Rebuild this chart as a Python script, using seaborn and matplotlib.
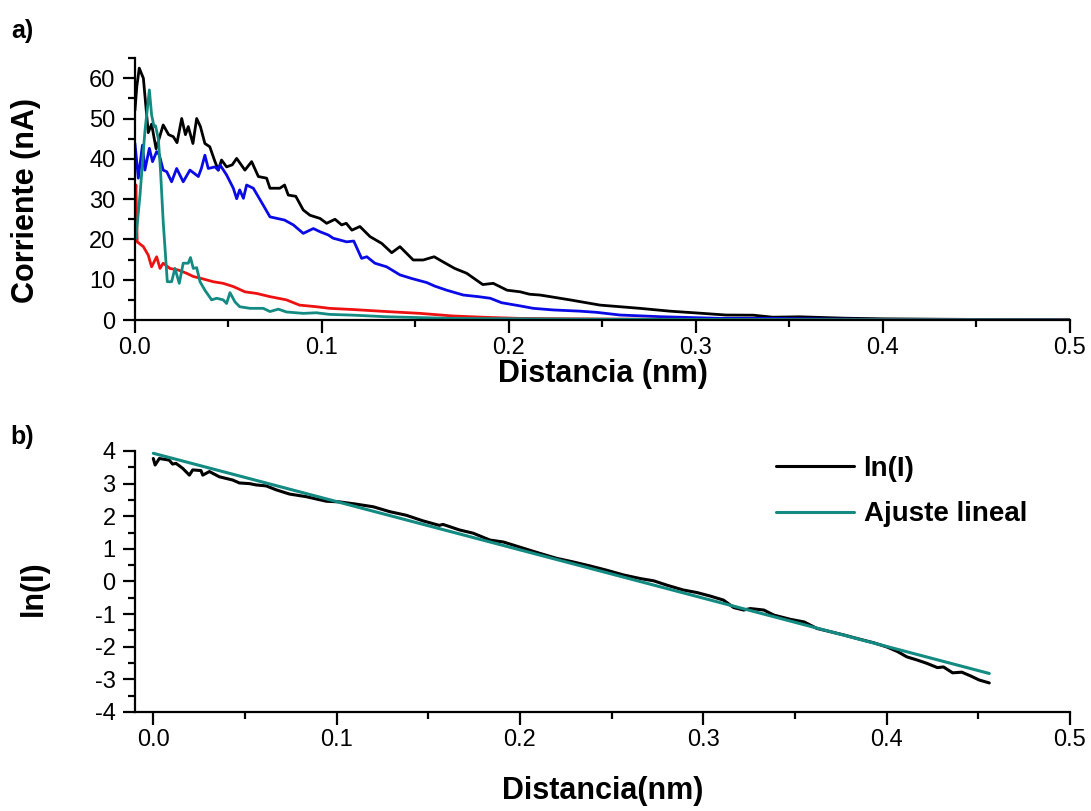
import pandas as pd
import seaborn as sns
import matplotlib.pyplot as plt
import matplotlib.ticker as ticker

sns.set_style("ticks")
plt.rcParams['font.family'] = ['Liberation Sans', 'DejaVu Sans']
plt.rcParams['axes.unicode_minus'] = False
plt.rcParams['text.color'] = 'black'
plt.rcParams['axes.labelcolor'] = 'black'
plt.rcParams['xtick.color'] = 'black'
plt.rcParams['ytick.color'] = 'black'

# --- panel a) : current vs distance, 4 curves ---
x_black = [0.0, 0.001, 0.0023, 0.0045, 0.0071, 0.0089, 0.0113, 0.0151, 0.018, 0.0205, 0.0225, 0.025, 0.027,
           0.0285, 0.031, 0.033, 0.035, 0.0374, 0.040, 0.0428, 0.0446, 0.0463, 0.049, 0.052, 0.0544, 0.0588,
           0.0624, 0.066, 0.0704, 0.0722, 0.0775, 0.080, 0.082, 0.086, 0.090, 0.0936, 0.099, 0.1025, 0.107,
           0.1105, 0.113, 0.116, 0.1203, 0.1257, 0.132, 0.1373, 0.1417, 0.1488, 0.1542, 0.160, 0.166, 0.171,
           0.1774, 0.186, 0.1916, 0.199, 0.206, 0.211, 0.2166, 0.222, 0.2326, 0.2487, 0.2594, 0.270, 0.286,
           0.302, 0.316, 0.3307, 0.341, 0.3556, 0.38, 0.40, 0.43, 0.46, 0.50]
y_black = [52, 58, 62.5, 60, 46.5, 48.6, 42.5, 48.4, 46, 45.5, 44, 50, 46, 48, 43.8, 50, 48, 43.8, 43, 39.3,
           37.2, 39.7, 38, 38.5, 40.1, 37.2, 39.3, 35.6, 35.2, 32.7, 32.7, 33.5, 31, 30.7, 27.3, 26, 25.2, 24,
           25, 23.6, 24, 22.3, 23.2, 20.7, 19, 16.7, 18.2, 14.9, 14.9, 15.7, 14.1, 12.8, 11.6, 8.8, 9.1, 7.4,
           7.0, 6.4, 6.2, 5.8, 5.0, 3.7, 3.3, 2.9, 2.2, 1.7, 1.24, 1.2, 0.7, 0.8, 0.45, 0.3, 0.2, 0.12, 0.08]

x_blue = [0.0, 0.0018, 0.004, 0.0053, 0.0077, 0.0094, 0.0116, 0.013, 0.0151, 0.017, 0.0196, 0.0223, 0.0258,
          0.0294, 0.0339, 0.0355, 0.0374, 0.0392, 0.0428, 0.0445, 0.0455, 0.049, 0.0526, 0.0544, 0.056, 0.058,
          0.0597, 0.0633, 0.0686, 0.0722, 0.080, 0.0847, 0.090, 0.0954, 0.099, 0.1034, 0.106, 0.1132, 0.117,
          0.1212, 0.124, 0.1283, 0.1346, 0.1417, 0.148, 0.156, 0.1604, 0.1667, 0.1756, 0.1836, 0.190, 0.196,
          0.206, 0.213, 0.2237, 0.238, 0.247, 0.2594, 0.2807, 0.313, 0.34, 0.37, 0.40, 0.45, 0.50]
y_blue = [43.8, 35.2, 43.4, 37.2, 42.6, 39.3, 41.8, 41, 37.2, 36.8, 34.3, 37.6, 34.3, 37.2, 35.6, 37.6, 40.9,
          37.6, 38, 37.2, 38.5, 36, 32.7, 30.1, 32.3, 30.2, 33.5, 32.7, 28.5, 25.6, 24.8, 23.6, 21.5, 22.7,
          21.9, 21.1, 20.3, 19.4, 19.6, 15.3, 15.7, 14.1, 13.2, 11.2, 10.3, 9.3, 8.4, 7.4, 6.2, 5.8, 5.4, 4.3,
          3.5, 2.9, 2.5, 2.2, 1.9, 1.24, 0.83, 0.41, 0.4, 0.25, 0.15, 0.08, 0.05]

x_red = [0.0, 0.0005, 0.0012, 0.0045, 0.0071, 0.0089, 0.0116, 0.0134, 0.0151, 0.0187, 0.0232, 0.0276, 0.0312,
         0.0356, 0.0419, 0.0472, 0.0526, 0.0588, 0.065, 0.0722, 0.081, 0.088, 0.097, 0.104, 0.1167, 0.1346,
         0.1524, 0.170, 0.188, 0.206, 0.25, 0.30, 0.40, 0.50]
y_red = [30, 33.5, 19.4, 18.2, 16.1, 13.2, 15.7, 12.8, 14.1, 12.8, 12.4, 11.6, 10.8, 10.3, 9.5, 9.1, 8.3, 7.0,
         6.6, 5.8, 5.0, 3.7, 3.3, 2.9, 2.6, 2.1, 1.65, 1.0, 0.66, 0.4, 0.25, 0.15, 0.08, 0.05]

x_teal = [0.0005, 0.0027, 0.0053, 0.0077, 0.0089, 0.0102, 0.011, 0.0125, 0.0137, 0.0151, 0.0173, 0.0196,
          0.0214, 0.0237, 0.0258, 0.0285, 0.0297, 0.0312, 0.033, 0.0348, 0.0374, 0.041, 0.0437, 0.0472, 0.049,
          0.0508, 0.0535, 0.056, 0.0615, 0.0686, 0.0722, 0.0767, 0.081, 0.090, 0.097, 0.104, 0.117, 0.135,
          0.17, 0.206, 0.25, 0.3, 0.4, 0.5]
y_teal = [20.3, 31, 46.7, 57.1, 50.9, 48, 48.2, 45, 36.8, 24.4, 9.5, 9.5, 12.8, 9.1, 14.1, 14.1, 15.5, 12.8, 13,
          9.5, 7.4, 5.0, 5.4, 5.0, 4.1, 6.8, 4.5, 3.3, 2.9, 2.9, 2.1, 2.7, 2.0, 1.65, 1.8, 1.4, 1.2, 0.8, 0.4,
          0.3, 0.2, 0.15, 0.1, 0.05]

# --- panel b) : ln(I) and linear fit ---
x_ln = [0.0, 0.001, 0.0033, 0.0087, 0.0105, 0.0124, 0.016, 0.0197, 0.0215, 0.026, 0.027, 0.0306, 0.036, 0.0433,
        0.047, 0.0525, 0.056, 0.0616, 0.067, 0.0743, 0.0834, 0.0944, 0.1016, 0.1108, 0.12, 0.129, 0.138, 0.147,
        0.156, 0.158, 0.167, 0.1745, 0.1836, 0.191, 0.2018, 0.211, 0.22, 0.229, 0.238, 0.247, 0.2565, 0.2656,
        0.273, 0.280, 0.289, 0.2966, 0.304, 0.311, 0.3166, 0.322, 0.3257, 0.333, 0.3385, 0.3475, 0.355, 0.362,
        0.3694, 0.3767, 0.384, 0.393, 0.4003, 0.406, 0.411, 0.4168, 0.422, 0.4277, 0.431, 0.436, 0.441, 0.446,
        0.4505, 0.456]
y_ln = [3.77, 3.57, 3.77, 3.72, 3.6, 3.62, 3.47, 3.26, 3.42, 3.4, 3.26, 3.37, 3.21, 3.11, 3.02, 3.0, 2.96, 2.93,
        2.81, 2.68, 2.6, 2.46, 2.44, 2.37, 2.29, 2.14, 2.03, 1.86, 1.72, 1.75, 1.58, 1.48, 1.27, 1.21, 1.02, 0.86,
        0.71, 0.6, 0.48, 0.35, 0.2, 0.09, 0.02, -0.11, -0.26, -0.34, -0.45, -0.57, -0.8, -0.875, -0.83, -0.875,
        -1.03, -1.16, -1.24, -1.44, -1.54, -1.64, -1.75, -1.88, -2.01, -2.15, -2.31, -2.41, -2.51, -2.64, -2.62,
        -2.8, -2.78, -2.9, -3.02, -3.11]
x_fit = [0.0, 0.456]
y_fit = [3.93, -2.82]

top = pd.concat([
    pd.DataFrame({'x': x_black, 'y': y_black, 'serie': 'negro'}),
    pd.DataFrame({'x': x_blue, 'y': y_blue, 'serie': 'azul'}),
    pd.DataFrame({'x': x_red, 'y': y_red, 'serie': 'rojo'}),
    pd.DataFrame({'x': x_teal, 'y': y_teal, 'serie': 'verde'}),
])
bottom = pd.concat([
    pd.DataFrame({'x': x_ln, 'y': y_ln, 'serie': 'ln(I)'}),
    pd.DataFrame({'x': x_fit, 'y': y_fit, 'serie': 'Ajuste lineal'}),
])

teal = '#138a82'
fig = plt.figure(figsize=(10.91, 8.11), dpi=100)
ax1 = fig.add_axes([0.1237, 0.6054, 0.857, 0.323])
ax2 = fig.add_axes([0.1237, 0.1221, 0.857, 0.3218])

sns.lineplot(data=top, x='x', y='y', hue='serie', estimator=None, sort=False, legend=False, lw=2.0,
             palette={'negro': 'black', 'azul': '#0a0ae6', 'rojo': '#ee1111', 'verde': teal}, ax=ax1)
sns.lineplot(data=bottom, x='x', y='y', hue='serie', estimator=None, sort=False, lw=2.2,
             palette={'ln(I)': 'black', 'Ajuste lineal': teal}, ax=ax2)

ax1.set(xlim=(0, 0.5), ylim=(0, 65))
ax1.xaxis.set_major_locator(ticker.MultipleLocator(0.1))
ax1.yaxis.set_major_locator(ticker.MultipleLocator(10))
ax2.set(xlim=(-0.01, 0.5), ylim=(-4, 4))
ax2.xaxis.set_major_locator(ticker.MultipleLocator(0.1))
ax2.yaxis.set_major_locator(ticker.MultipleLocator(1))

for ax in (ax1, ax2):
    sns.despine(ax=ax)
    for s in ('left', 'bottom'):
        ax.spines[s].set_linewidth(1.6)
        ax.spines[s].set_color('black')
    ax.xaxis.set_major_formatter(ticker.FormatStrFormatter('%.1f'))
    ax.xaxis.set_minor_locator(ticker.AutoMinorLocator(2))
    ax.yaxis.set_minor_locator(ticker.AutoMinorLocator(2))
    ax.tick_params(which='major', direction='out', length=9, width=1.6, labelsize=17)
    ax.tick_params(which='minor', direction='out', length=5, width=1.6)
    ax.tick_params(axis='x', pad=3)
    ax.tick_params(axis='y', pad=5)

ax1.set_xlabel('Distancia (nm)', fontsize=22, fontweight='bold')
ax1.set_ylabel('Corriente (nA)', fontsize=22, fontweight='bold')
ax1.xaxis.set_label_coords(0.5, -0.15)
ax1.yaxis.set_label_coords(-0.1, 0.458)

ax2.set_xlabel('Distancia(nm)', fontsize=22, fontweight='bold')
ax2.set_ylabel('ln(I)', fontsize=22, fontweight='bold')
ax2.xaxis.set_label_coords(0.5, -0.245)
ax2.yaxis.set_label_coords(-0.092, 0.475)

handles, labels = ax2.get_legend_handles_labels()
ax2.legend(handles, labels, loc='upper left', bbox_to_anchor=(776 / 1091, 1 - 456 / 811),
           bbox_transform=fig.transFigure, frameon=False, borderpad=0, borderaxespad=0,
           handlelength=2.8, handletextpad=0.35, labelspacing=0.7,
           prop={'size': 20, 'weight': 'bold'})

fig.text(22 / 1091, 1 - 31 / 811, 'a)', fontsize=18, fontweight='bold', ha='center', va='center')
fig.text(22 / 1091, 1 - 437 / 811, 'b)', fontsize=18, fontweight='bold', ha='center', va='center')

fig.savefig('out.png', dpi=100)
